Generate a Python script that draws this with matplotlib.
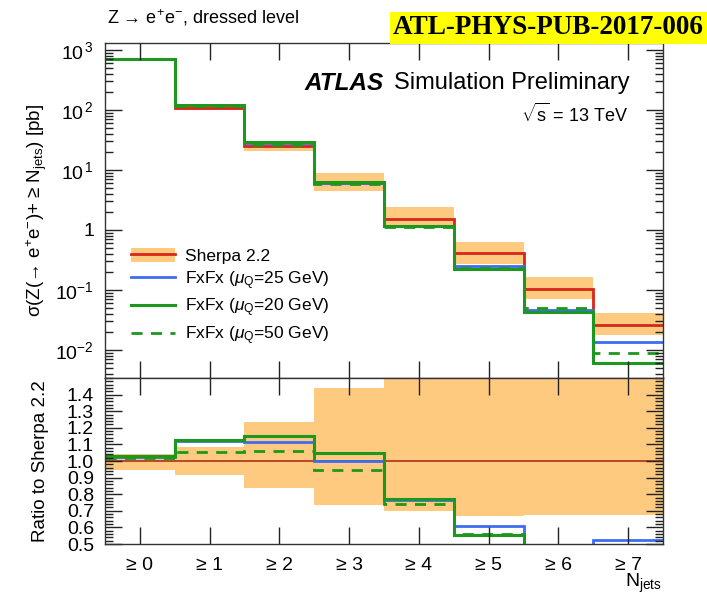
import numpy as np
import matplotlib
matplotlib.use("Agg")
import matplotlib.pyplot as plt
from matplotlib.ticker import FixedLocator, MultipleLocator, LogLocator, NullFormatter, FuncFormatter
from matplotlib.patches import Patch
from matplotlib.lines import Line2D

plt.rcParams['font.family'] = ['Liberation Sans', 'DejaVu Sans']
plt.rcParams['mathtext.fontset'] = 'custom'
plt.rcParams['mathtext.rm'] = 'Liberation Sans'
plt.rcParams['mathtext.it'] = 'Liberation Sans:italic'
plt.rcParams['mathtext.bf'] = 'Liberation Sans:bold'

# Inclusive jet multiplicity bins
njets_labels = ["≥ 0", "≥ 1", "≥ 2", "≥ 3", "≥ 4", "≥ 5", "≥ 6", "≥ 7"]

# Cross sections [pb]
sherpa = [700, 109, 25.0, 6.1, 1.52, 0.41, 0.104, 0.026]
sherpa_up = [730, 118, 30.9, 8.8, 2.4, 0.63, 0.163, 0.041]
sherpa_dn = [662, 100, 21.0, 4.47, 1.06, 0.275, 0.070, 0.0175]
fxfx_mu25 = [715, 122, 27.9, 6.11, 1.16, 0.25, 0.047, 0.0137]
fxfx_mu20 = [721, 122.7, 28.8, 6.39, 1.17, 0.227, 0.043, 0.0060]
fxfx_mu50 = [711, 115, 26.5, 5.78, 1.125, 0.23, 0.050, 0.0088]

edges = np.arange(len(njets_labels) + 1) - 0.5
centers = np.arange(len(njets_labels))

sherpa = np.array(sherpa)
c_band = '#fdca80'
c_red = '#d8261a'
c_blue = '#3c6cf2'
c_green = '#1e971e'

fig = plt.figure(figsize=(7.07, 5.96), dpi=100)
ax = fig.add_axes([0.1485, 0.3658, 0.7893, 0.5621])
rx = fig.add_axes([0.1485, 0.0872, 0.7893, 0.2786], sharex=ax)

# ---- main panel
ax.stairs(sherpa_up, edges, baseline=sherpa_dn, fill=True, color=c_band, lw=0)
ax.stairs(sherpa, edges, color=c_red, lw=2.0, baseline=None)
ax.stairs(fxfx_mu25, edges, color=c_blue, lw=2.0, baseline=None)
ax.stairs(fxfx_mu20, edges, color=c_green, lw=2.2, baseline=None)
ax.stairs(fxfx_mu50, edges, color=c_green, lw=2.0, ls=(0, (4, 3)), baseline=None)
ax.set_yscale('log')
ax.set_ylim(10 ** -2.467, 10 ** 3.117)
ax.set_xlim(edges[0], edges[-1])

def log_fmt(v, pos):
    e = int(round(np.log10(v)))
    if e == 0:
        return "1"
    return r"$10^{\,%d}$" % e if e > 0 else r"$10^{%d}$" % e

ax.yaxis.set_major_locator(LogLocator(base=10, numticks=20))
ax.yaxis.set_minor_locator(LogLocator(base=10, subs=np.arange(2, 10), numticks=20))
ax.yaxis.set_major_formatter(FuncFormatter(log_fmt))
ax.yaxis.set_minor_formatter(NullFormatter())
ax.set_ylabel(r"σ(Z(→ e$^{+}$e$^{-}$)+ ≥ N$_{\rm jets}$) [pb]", fontsize=13.5)
ax.yaxis.set_label_coords(-0.1, 0.5)

# ---- ratio panel
ratio_up = np.array(sherpa_up) / sherpa
ratio_dn = np.array(sherpa_dn) / sherpa
rx.stairs(np.minimum(ratio_up, 1.6), edges, baseline=ratio_dn, fill=True, color=c_band, lw=0)
rx.stairs(sherpa / sherpa, edges, color='#b0301a', lw=1.2, baseline=None)
rx.stairs(np.array(fxfx_mu25) / sherpa, edges, color=c_blue, lw=2.0, baseline=None)
rx.stairs(np.array(fxfx_mu20) / sherpa, edges, color=c_green, lw=2.2, baseline=None)
rx.stairs(np.array(fxfx_mu50) / sherpa, edges, color=c_green, lw=2.0, ls=(0, (4, 3)), baseline=None)
rx.set_ylim(0.5, 1.5)
rx.yaxis.set_major_locator(FixedLocator(np.round(np.arange(0.5, 1.45, 0.1), 1)))
rx.yaxis.set_minor_locator(MultipleLocator(0.02))
rx.yaxis.set_major_formatter(FuncFormatter(lambda v, p: "%.1f" % v))
rx.set_ylabel("Ratio to Sherpa 2.2", fontsize=13.5)
rx.yaxis.set_label_coords(-0.1, 0.5)

rx.xaxis.set_major_locator(FixedLocator(centers))
rx.xaxis.set_minor_locator(FixedLocator([]))
rx.set_xticklabels(njets_labels, fontsize=14)
plt.setp(ax.get_xticklabels(), visible=False)

for a in (ax, rx):
    a.tick_params(which='both', direction='in', top=True, right=True, colors='#222222', width=1.0)
    a.tick_params(axis='x', which='major', length=12.5)
    a.tick_params(axis='y', which='major', length=12.5)
    a.tick_params(axis='y', which='minor', length=6)
    a.tick_params(axis='both', labelcolor='black', labelsize=14, pad=8)
    for s in a.spines.values():
        s.set_color('#333333')
        s.set_linewidth(1.0)
rx.tick_params(axis='x', pad=9)
fig.text(662 / 707, 1 - 583 / 596, r"N$_{\rm jets}$", fontsize=14, ha='right', va='center')

# ---- legend
h_sherpa = (Patch(facecolor=c_band, edgecolor='none'), Line2D([], [], color=c_red, lw=2.0))
handles = [h_sherpa,
           Line2D([], [], color=c_blue, lw=2.0),
           Line2D([], [], color=c_green, lw=2.2),
           Line2D([], [], color=c_green, lw=2.0, ls=(0, (4, 3)))]
labels = ["Sherpa 2.2",
          r"FxFx ($\mu_{\rm Q}$=25 GeV)",
          r"FxFx ($\mu_{\rm Q}$=20 GeV)",
          r"FxFx ($\mu_{\rm Q}$=50 GeV)"]
ax.legend(handles, labels, loc='upper left', bbox_to_anchor=(0.035, 0.41), frameon=False,
          fontsize=12.5, handlelength=2.5, handleheight=0.9, handletextpad=0.6,
          labelspacing=0.3, borderaxespad=0)

# ---- annotations
fig.text(305 / 707, 1 - 83 / 596, "ATLAS", fontsize=17.5,
         fontweight='bold', fontstyle='italic', va='center', ha='left')
fig.text(394 / 707, 1 - 83 / 596, "Simulation Preliminary", fontsize=17, va='center', ha='left')
fig.text(628 / 707, 1 - 114 / 596, r"$\sqrt{\rm s}$ = 13 TeV", fontsize=13, va='center', ha='right')
fig.text(107 / 707, 1 - 18 / 596, r"Z → e$^{+}$e$^{-}$, dressed level", fontsize=13,
         va='center', ha='left')
fig.text(704 / 707, 1 - 28 / 596, "ATL-PHYS-PUB-2017-006", fontsize=19.5, fontweight='bold',
         family='Liberation Serif', va='center', ha='right',
         bbox=dict(facecolor='#ffff00', edgecolor='none', pad=2.5))

fig.savefig("out.png", dpi=100)
